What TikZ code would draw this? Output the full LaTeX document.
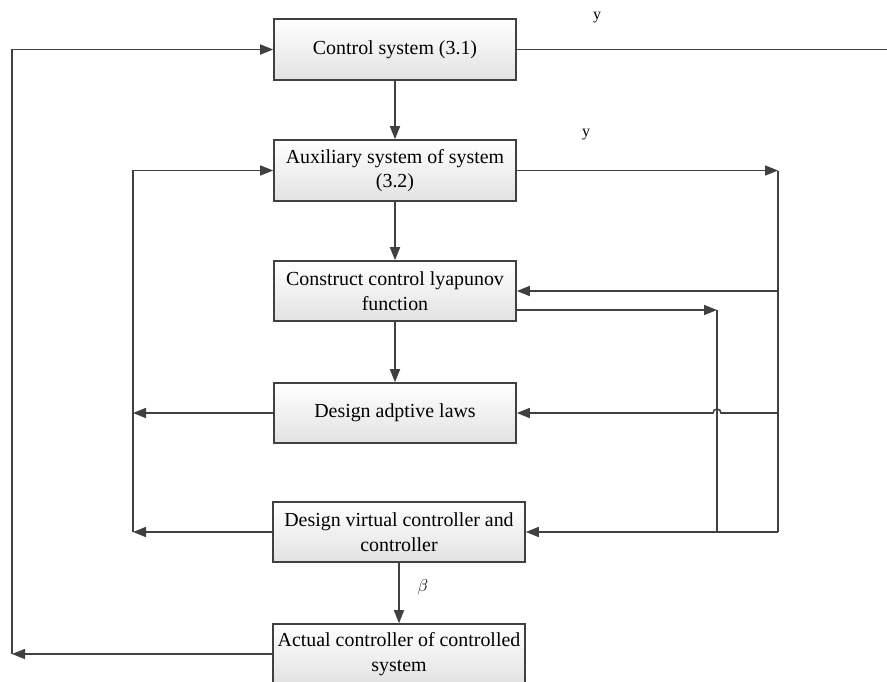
\documentclass[tikz,border=0pt]{standalone}
\usepackage{fontspec}
\setmainfont{Liberation Serif}
\usetikzlibrary{arrows.meta,positioning}
\definecolor{linegray}{HTML}{404040}
\definecolor{boxgray}{HTML}{E2E2E2}
\tikzset{block/.style = {draw=linegray, line width=1.6pt, top color=white, bottom color=boxgray, minimum width=242pt, minimum height=61pt, align=center, inner sep=2pt, font=\fontsize{19.9}{24.5}\selectfont}}
\tikzset{widebox/.style = {block, minimum width=252pt}}
\tikzset{wire/.style = {linegray, line width=1.6pt}}
\tikzset{arrow/.style = {wire, -{Triangle[length=13pt,width=10pt]}}}
\begin{document}
\begin{tikzpicture}[x=1pt,y=-1pt]
\useasboundingbox (0,0) rectangle (887,681);

\node[block] (ctrl) at (395,49.5) {Control system (3.1)};
\node[block] (aux) at (395,170.5) {Auxiliary system of system\\(3.2)};
\node[block, minimum height=60pt] (clf) at (395,291) {Construct control lyapunov\\function};
\node[block, minimum height=60pt] (adapt) at (395,413) {Design adptive laws};
\node[widebox, minimum height=60pt] (virt) at (399,532) {Design virtual controller and\\controller};
\node[widebox, minimum height=60pt] (act) at (399,654) {Actual controller of controlled\\system};

\coordinate (yout) at (887,49.5);
\coordinate (r1) at (778,170.5);
\coordinate (r4) at (778,532);
\coordinate (m1) at (717,310);
\coordinate (m4) at (717,532);
\coordinate (hop) at (721,413);
\coordinate (l1) at (133,170.5);
\coordinate (l4) at (133,532);
\coordinate (o1) at (12,49.5);
\coordinate (o6) at (12,654);

\node[font=\fontsize{16}{16}\selectfont] (ylab1) at (597,18) {y};
\node[font=\fontsize{16}{16}\selectfont] (ylab2) at (586,135) {y};
\node[font=\fontsize{18}{18}\selectfont] (blab) at (423,587) {$\beta$};

\draw[wire] (ctrl) -- (yout);
\draw[arrow] (ctrl) -- (aux);
\draw[arrow] (aux) -- (clf);
\draw[arrow] (clf) -- (adapt);
\draw[arrow] (virt) -- (act);

\draw[arrow] (aux) -- (r1);
\draw[wire] (r1) -- (r4);
\draw[arrow] (r1 |- clf) -- (clf);
\draw[arrow] (r1 |- adapt) -- (hop) arc[start angle=0, end angle=180, radius=4pt] -- (adapt);
\draw[arrow] (r4) -- (virt);

\draw[arrow] (clf.east |- m1) -- (m1);
\draw[wire] (m1) -- (m4);

\draw[arrow] (adapt) -- (l1 |- adapt);
\draw[arrow] (virt) -- (l4);
\draw[arrow] (l4) -- (l1) -- (aux);

\draw[arrow] (act) -- (o6);
\draw[arrow] (o6) -- (o1) -- (ctrl);
\end{tikzpicture}
\end{document}
